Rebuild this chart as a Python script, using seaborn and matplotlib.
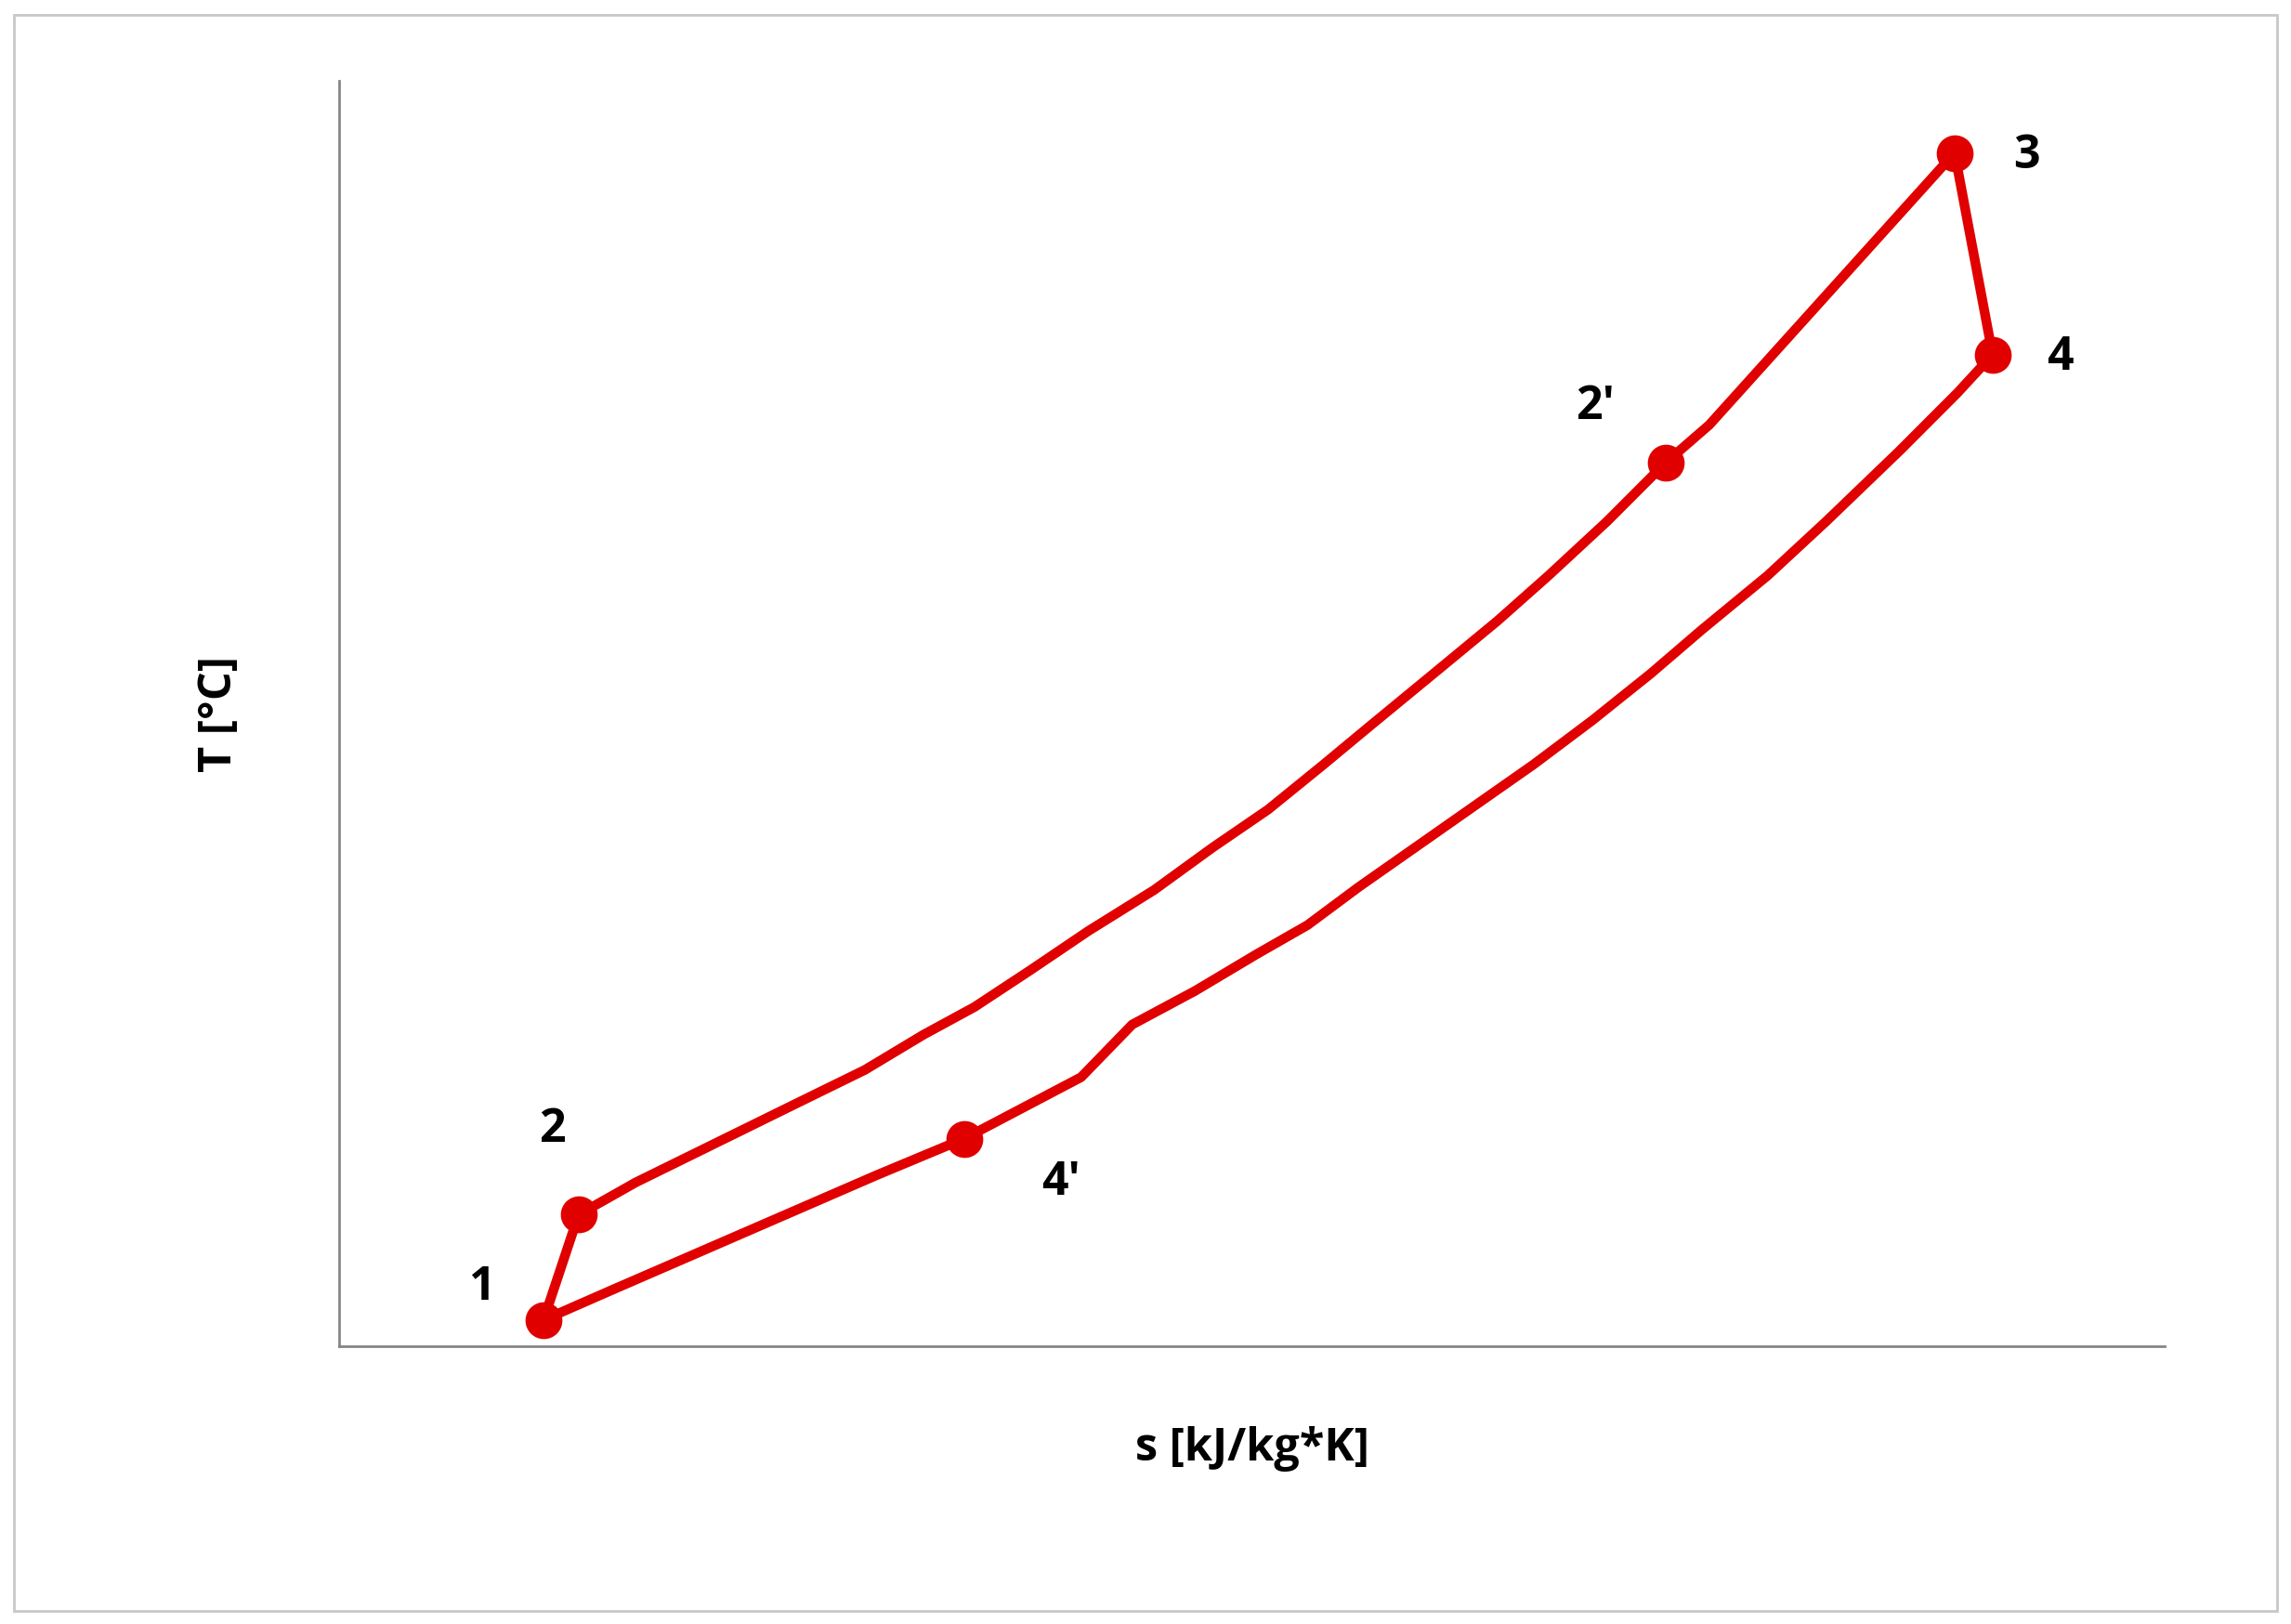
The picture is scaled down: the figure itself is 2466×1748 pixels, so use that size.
import matplotlib
matplotlib.use("Agg")
import matplotlib.pyplot as plt
import seaborn as sns
import pandas as pd
from matplotlib.patches import Rectangle

sns.set_style("white")
plt.rcParams['font.family'] = ['Open Sans', 'DejaVu Sans']

# Cycle path (s, T) in arbitrary units
path_s = [140, 164, 203, 258, 313, 360, 400, 435, 473, 513, 558, 598, 636, 673, 708, 753, 793, 828, 868, 908,
          938, 1106, 1132, 1108, 1068, 1018, 978, 933, 898, 858, 818, 778, 738, 698, 663, 628, 586, 543, 508, 468, 428,
          368, 308, 248, 188, 140]
path_T = [18, 90, 112, 139, 166, 189, 213, 232, 257, 284, 312, 341, 367, 397, 426, 463, 496, 527, 564, 604,
          630, 816, 678, 652, 612, 564, 527, 490, 460, 428, 398, 370, 342, 314, 288, 268, 243, 220, 184, 163, 142,
          117, 91, 65, 39, 18]

point_names = ["1", "2", "2'", "3", "4", "4'"]
point_s = [140, 164, 908, 1106, 1132, 428]
point_T = [18, 90, 604, 816, 678, 142]

label_dx = [-42, -18, -48, 49, 46, 66]
label_dy = [22, 58, 38, -2, -2, -30]

red = "#E00000"
fig = plt.figure(figsize=(24.66, 17.48), dpi=100)
ax = fig.add_axes([0.148, 0.171, 0.797, 0.779])

df = pd.DataFrame({"s": path_s, "T": path_T})
sns.lineplot(data=df, x="s", y="T", sort=False, estimator=None, color=red, linewidth=7.5, ax=ax)
pts = pd.DataFrame({"s": point_s, "T": point_T})
sns.scatterplot(data=pts, x="s", y="T", color=red, s=700, edgecolor=red, zorder=5, ax=ax)

for n, x, y, dx, dy in zip(point_names, point_s, point_T, label_dx, label_dy):
    ax.text(x + dx, y + dy, n, fontsize=36, fontweight="bold", color="black", ha="center", va="center")

ax.set_xlim(0, 1250)
ax.set_ylim(0, 865)
ax.set_xticks([])
ax.set_yticks([])
for sp in ["top", "right"]:
    ax.spines[sp].set_visible(False)
for sp in ["left", "bottom"]:
    ax.spines[sp].set_color("#868686")
    ax.spines[sp].set_linewidth(2)
ax.set_xlabel("s [kJ/kg*K]", fontsize=35, fontweight="bold", color="black", labelpad=62)
ax.set_ylabel("T [°C]", fontsize=35, fontweight="bold", color="black", labelpad=75)

fig.patches.append(Rectangle((0.006, 0.008), 0.988, 0.983, transform=fig.transFigure,
                             fill=False, edgecolor="#c8c8c8", linewidth=2))
fig.savefig("out.png", dpi=100)
